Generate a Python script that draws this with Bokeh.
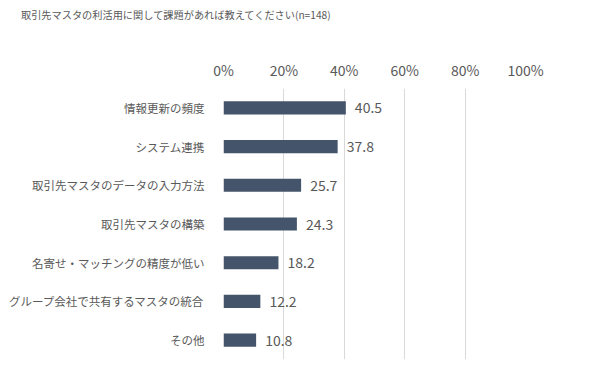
from bokeh.plotting import figure
from bokeh.models import FactorRange, ColumnDataSource, FixedTicker, Div
from bokeh.layouts import column
from bokeh.core.properties import value
from bokeh.embed import file_html
from bokeh.resources import INLINE

title = "取引先マスタの利活用に関して課題があれば教えてください(n=148)"
categories = ["情報更新の頻度", "システム連携", "取引先マスタのデータの入力方法", "取引先マスタの構築",
              "名寄せ・マッチングの精度が低い", "グループ会社で共有するマスタの統合", "その他"]
values = [40.5, 37.8, 25.7, 24.3, 18.2, 12.2, 10.8]
ticks = [0, 20, 40, 60, 80, 100]
tick_labels = {0: "0%", 20: "20%", 40: "40%", 60: "60%", 80: "80%", 100: "100%"}

FONT = "Noto Sans CJK JP"
TXT = "#595959"

head = Div(text=title, width=590, height=22,
           styles={"font-family": FONT, "font-size": "10.2px", "color": TXT,
                   "padding-left": "16px", "padding-top": "4px", "line-height": "12px",
                   "white-space": "nowrap", "box-sizing": "border-box"})

p = figure(width=590, height=338, x_range=(0, 100),
           y_range=FactorRange(factors=list(reversed(categories))),
           x_axis_location="above", toolbar_location=None, output_backend="svg",
           min_border_left=223, min_border_right=65, min_border_top=56, min_border_bottom=11)
p.outline_line_color = None

src = ColumnDataSource(dict(cat=categories, val=values,
                            lab=[f"{v:.1f}" for v in values],
                            lx=[v + 3 for v in values]))
p.hbar(y="cat", right="val", left=0, height=0.34, source=src,
       fill_color="#44546A", line_color=None)
p.text(x="lx", y="cat", text="lab", source=src, text_align="left", text_baseline="middle",
       text_font=value(FONT), text_font_size="14px", text_color=TXT)

xa = p.xaxis[0]
xa.ticker = FixedTicker(ticks=ticks)
xa.major_label_overrides = tick_labels
xa.axis_line_color = None
xa.major_tick_line_color = None
xa.minor_tick_line_color = None
xa.major_label_standoff = 3
xa.major_label_text_font = FONT
xa.major_label_text_font_size = "14px"
xa.major_label_text_color = TXT

ya = p.yaxis[0]
ya.axis_line_color = None
ya.major_tick_line_color = None
ya.minor_tick_line_color = None
ya.major_label_standoff = 13
ya.major_label_text_font = FONT
ya.major_label_text_font_size = "11.5px"
ya.major_label_text_color = TXT

p.xgrid.grid_line_color = "#d9d9d9"
p.xgrid.grid_line_width = 1
p.ygrid.grid_line_color = None

layout = column(head, p, spacing=0)
open("out.html", "w").write(file_html(layout, INLINE))
